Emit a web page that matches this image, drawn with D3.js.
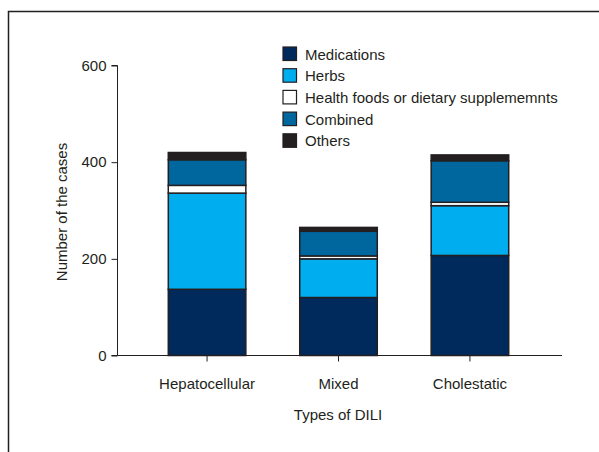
<!DOCTYPE html>
<html lang="en">
<head>
    <meta charset="UTF-8">
    <title>Types of DILI</title>
    <script src="https://d3js.org/d3.v7.min.js" charset="utf-8"></script>
    <style>
        body {
            margin: 0;
            background: #fff;
        }
        text {
            font-family: "Liberation Sans Narrow", "Liberation Sans", sans-serif;
            fill: #231f20;
        }
    </style>
</head>
<body>
    <script>
        var width = 599;
        var height = 452;

        var categories = ["Hepatocellular", "Mixed", "Cholestatic"];
        var seriesNames = ["Medications", "Herbs", "Health foods or dietary supplememnts", "Combined", "Others"];
        var medications = [137, 120, 207];
        var herbs = [199, 80, 103];
        var healthFoods = [16, 6, 7];
        var combined = [53, 51, 86];
        var others = [15, 8, 12];
        var yTicks = [0, 200, 400, 600];
        var colors = ["#002a5c", "#00aeef", "#ffffff", "#00679e", "#231f20"];

        var rows = categories.map(function(c, i) {
            return {
                cat: c,
                "Medications": medications[i],
                "Herbs": herbs[i],
                "Health foods or dietary supplememnts": healthFoods[i],
                "Combined": combined[i],
                "Others": others[i]
            };
        });

        var svg = d3.select("body")
            .append("svg")
            .attr("width", width)
            .attr("height", height);

        // outer frame (left + top only visible)
        svg.append("path")
            .attr("d", "M8.5," + height + "V11.5H" + width)
            .attr("fill", "none")
            .attr("stroke", "#231f20")
            .attr("stroke-width", 1.5);

        var y = d3.scaleLinear()
            .domain([0, 600])
            .range([355.5, 65.5]);

        var x = d3.scaleBand()
            .domain(categories)
            .range([142, 535])
            .paddingInner(0.41)
            .paddingOuter(0.2);

        var stack = d3.stack().keys(seriesNames)(rows);

        var color = d3.scaleOrdinal().domain(seriesNames).range(colors);

        svg.append("g")
            .selectAll("g")
            .data(stack)
            .enter()
            .append("g")
            .attr("fill", function(d) { return color(d.key); })
            .selectAll("rect")
            .data(function(d) { return d; })
            .enter()
            .append("rect")
            .attr("x", function(d) { return x(d.data.cat); })
            .attr("y", function(d) { return y(d[1]); })
            .attr("width", x.bandwidth())
            .attr("height", function(d) { return y(d[0]) - y(d[1]); })
            .attr("stroke", "#231f20")
            .attr("stroke-width", 1.5);

        // y axis
        var yAxis = svg.append("g")
            .attr("transform", "translate(117.5,0)")
            .call(d3.axisLeft(y).tickValues(yTicks).tickSize(6).tickPadding(5));
        yAxis.select(".domain").attr("stroke", "#231f20").attr("d", "M-6,65.5H0V355.5H-6");
        yAxis.selectAll(".tick line").attr("stroke", "#231f20");
        yAxis.selectAll("text").style("font-size", "15px").attr("fill", "#231f20");

        // x axis
        var xAxis = svg.append("g")
            .attr("transform", "translate(0,355.5)")
            .call(d3.axisBottom(x).tickSize(6).tickPadding(17));
        xAxis.select(".domain").attr("stroke", "#231f20").attr("d", "M117.5,0H562");
        xAxis.selectAll(".tick line").attr("stroke", "#231f20");
        xAxis.selectAll("text").style("font-size", "15px").attr("fill", "#231f20");

        svg.append("text")
            .attr("x", 338)
            .attr("y", 420)
            .attr("text-anchor", "middle")
            .style("font-size", "15px")
            .text("Types of DILI");

        svg.append("text")
            .attr("transform", "translate(67,212) rotate(-90)")
            .attr("text-anchor", "middle")
            .style("font-size", "15px")
            .text("Number of the cases");

        // legend
        var legend = svg.append("g")
            .attr("transform", "translate(283,47)");

        var item = legend.selectAll("g")
            .data(seriesNames)
            .enter()
            .append("g")
            .attr("transform", function(d, i) { return "translate(0," + (i * 21.7) + ")"; });

        item.append("rect")
            .attr("width", 13.5)
            .attr("height", 13.5)
            .attr("fill", function(d) { return color(d); })
            .attr("stroke", "#231f20")
            .attr("stroke-width", 1.2);

        item.append("text")
            .attr("x", 22)
            .attr("y", 12.5)
            .style("font-size", "15px")
            .text(function(d) { return d; });
    </script>
</body>
</html>
